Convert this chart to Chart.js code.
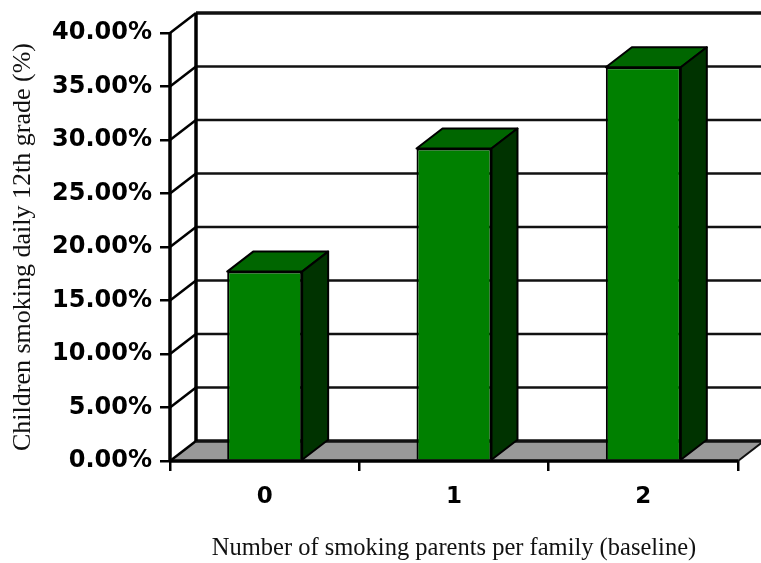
<!DOCTYPE html>
<html>
<head>
<meta charset="utf-8">
<script src="https://cdn.jsdelivr.net/npm/chart.js@4.4.0/dist/chart.umd.min.js"></script>
<style>
  body { margin: 0; background: #fff; }
  #wrap { width: 761px; height: 563px; }
</style>
</head>
<body>
<div id="wrap"><canvas id="chartSmoking" width="761" height="563"></canvas></div>
<script>
// data
var categories = ["0", "1", "2"];
var smokingRates = [17.7, 29.2, 36.8];
var tickValues = [0, 5, 10, 15, 20, 25, 30, 35, 40];
var xTitle = "Number of smoking parents per family (baseline)";
var yTitle = "Children smoking daily 12th grade (%)";

// depth offset of the fake 3d box
var DX = 26, DY = -20;

function line(ctx, x1, y1, x2, y2, w, color) {
	ctx.beginPath();
	ctx.lineWidth = w;
	ctx.strokeStyle = color;
	ctx.moveTo(x1, y1);
	ctx.lineTo(x2, y2);
	ctx.stroke();
}

var box3d = {
	id: 'box3d',
	beforeDraw: function (chart) {
		var ctx = chart.ctx;
		ctx.save();
		ctx.fillStyle = '#fff';
		ctx.fillRect(0, 0, chart.width, chart.height);
		ctx.restore();
	},
	beforeDatasetsDraw: function (chart) {
		var ctx = chart.ctx, area = chart.chartArea, ys = chart.scales.y;
		var L = area.left, R = area.right, B = area.bottom;
		ctx.save();
		// floor
		ctx.fillStyle = '#999999';
		ctx.beginPath();
		ctx.moveTo(L, B);
		ctx.lineTo(R, B);
		ctx.lineTo(R + DX, B + DY);
		ctx.lineTo(L + DX, B + DY);
		ctx.closePath();
		ctx.fill();
		line(ctx, R, B, R + DX, B + DY, 2, '#111');

		// back wall grid + diagonals
		tickValues.forEach(function (v) {
			var py = ys.getPixelForValue(v);
			var lw = (v === 0 || v === tickValues[tickValues.length - 1]) ? 3.5 : 2.5;
			line(ctx, L, py, L + DX, py + DY, 2.5, '#000');
			line(ctx, L + DX, py + DY, chart.width, py + DY, lw, '#111');
		});
		// back wall left edge
		line(ctx, L + DX, ys.getPixelForValue(40) + DY, L + DX, B + DY, 3.5, '#000');
		ctx.restore();
	},
	afterDatasetsDraw: function (chart) {
		var ctx = chart.ctx, area = chart.chartArea;
		var meta = chart.getDatasetMeta(0);
		ctx.save();
		ctx.lineJoin = 'round';
		meta.data.forEach(function (bar) {
			var l = bar.x - bar.width / 2, r = bar.x + bar.width / 2, t = bar.y, b = bar.base;
			// top face
			ctx.beginPath();
			ctx.moveTo(l, t);
			ctx.lineTo(l + DX, t + DY);
			ctx.lineTo(r + DX, t + DY);
			ctx.lineTo(r, t);
			ctx.closePath();
			ctx.fillStyle = '#006600';
			ctx.fill();
			ctx.lineWidth = 2;
			ctx.strokeStyle = '#000';
			ctx.stroke();
			// side face
			ctx.beginPath();
			ctx.moveTo(r, t);
			ctx.lineTo(r + DX, t + DY);
			ctx.lineTo(r + DX, b + DY);
			ctx.lineTo(r, b);
			ctx.closePath();
			ctx.fillStyle = '#003300';
			ctx.fill();
			ctx.stroke();
		});
		// front axis lines
		line(ctx, area.left, area.top, area.left, area.bottom, 3.5, '#000');
		line(ctx, area.left, area.bottom, area.right, area.bottom, 3.5, '#000');
		ctx.restore();
	}
};

var chart = new Chart(document.getElementById('chartSmoking'), {
	type: 'bar',
	data: {
		labels: categories,
		datasets: [{
			label: 'Smoking daily',
			data: smokingRates,
			backgroundColor: '#008000',
			borderColor: '#000',
			borderWidth: 2,
			barPercentage: 0.396,
			categoryPercentage: 1
		}]
	},
	options: {
		responsive: false,
		animation: false,
		layout: {
			padding: { left: 4, top: 33, right: 23, bottom: 0 }
		},
		plugins: {
			legend: { display: false },
			tooltip: { enabled: false }
		},
		scales: {
			x: {
				border: { display: false },
				grid: {
					offset: true,
					drawOnChartArea: false,
					tickLength: 10,
					lineWidth: 2.5,
					color: '#000'
				},
				ticks: {
					color: '#000',
					padding: 12,
					font: { family: 'DejaVu Sans', weight: 'bold', size: 23 }
				},
				title: {
					display: true,
					text: xTitle,
					color: '#111',
					padding: { top: 0, bottom: 0 },
					font: { family: 'Liberation Serif', size: 24.5 }
				},
				afterFit: function (scale) {
					scale.height = 102;
				}
			},
			y: {
				min: 0,
				max: 40,
				border: { display: false },
				grid: {
					drawOnChartArea: false,
					tickLength: 10,
					lineWidth: 2.5,
					color: '#000'
				},
				ticks: {
					stepSize: 5,
					color: '#000',
					padding: 8,
					font: { family: 'DejaVu Sans', weight: 'bold', size: 24 },
					callback: function (v) { return v.toFixed(2) + '%'; }
				},
				title: {
					display: true,
					text: yTitle,
					color: '#111',
					padding: { top: 4, bottom: 0 },
					font: { family: 'Liberation Serif', size: 26 }
				},
				afterFit: function (scale) {
					scale.width = 166;
				}
			}
		}
	},
	plugins: [box3d]
});
</script>
</body>
</html>
